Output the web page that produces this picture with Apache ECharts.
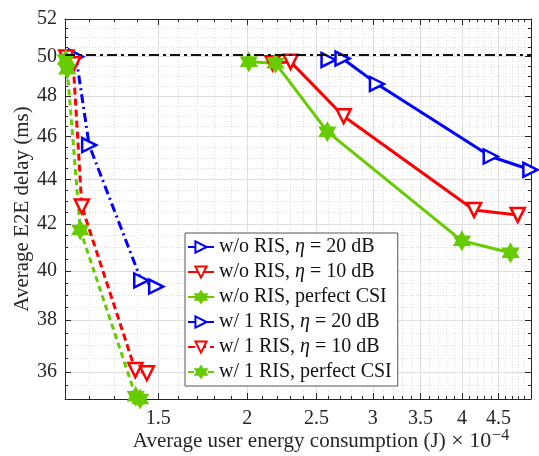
<!DOCTYPE html>
<html>
<head>
<meta charset="utf-8">
<script src="https://cdn.jsdelivr.net/npm/echarts@6/dist/echarts.min.js"></script>
<style>
  html, body { margin: 0; padding: 0; background: #fff; }
  #chart { width: 539px; height: 456px; }
</style>
</head>
<body>
<div id="chart"></div>
<script>
// energy in 1e-4 J, delay in ms
const woRis20X = [2.60, 2.72, 3.04, 4.39, 4.99];
const woRis20Y = [49.83, 49.9, 48.6, 45.06, 44.44];
const woRis10X = [2.17, 2.30, 2.73, 4.16, 4.79];
const woRis10Y = [49.66, 49.73, 46.99, 42.62, 42.4];
const woRisPerfX = [2.01, 2.19, 2.59, 4.00, 4.68];
const woRisPerfY = [49.73, 49.66, 46.24, 41.27, 40.76];

const ris20X = [1.15, 1.20, 1.42, 1.49];
const ris20Y = [50.0, 45.6, 39.6, 39.35];
const ris10X = [1.115, 1.14, 1.172, 1.393, 1.446];
const ris10Y = [49.95, 49.6, 42.77, 36.07, 35.95];
const risPerfX = [1.113, 1.118, 1.166, 1.395, 1.415];
const risPerfY = [49.85, 49.35, 41.74, 35.1, 35.0];

const thresholdDelay = 50;

const xTicks = [1.5, 2, 2.5, 3, 3.5, 4, 4.5];
const yTicks = [36, 38, 40, 42, 44, 46, 48, 50, 52];
const xMin = 1.11, xMax = 5.0;
const yMin = 35, yMax = 52;

const names = [
  'w/o RIS, η = 20 dB',
  'w/o RIS, η = 10 dB',
  'w/o RIS, perfect CSI',
  'w/ 1 RIS, η = 20 dB',
  'w/ 1 RIS, η = 10 dB',
  'w/ 1 RIS, perfect CSI'
];

const lg = Math.log10;
// minor ticks: 0.1 on x, 0.5 on y
var xMinor = [];
for (var i = 12; i <= 50; i++) {
  var v = i / 10;
  if (xTicks.indexOf(v) < 0) xMinor.push(lg(v));
}
var yMinor = [];
for (var j = 70; j <= 104; j++) {
  var w = j / 2;
  if (yTicks.indexOf(w) < 0) yMinor.push(lg(w));
}

const star = 'path://M50 0L64.43 25L93.3 25L78.87 50L93.3 75L64.43 75L50 100L35.57 75L6.7 75L21.13 50L6.7 25L35.57 25Z';
const FONT = 'Liberation Serif';
const AX = '#262626';

function pts(xs, ys) {
  return xs.map((x, k) => [lg(x), lg(ys[k])]);
}
function back(v) {
  return String(Math.round(Math.pow(10, v) * 100) / 100);
}

function axis(kind, opts) {
  var isX = kind === 'x';
  var major = (isX ? xTicks : yTicks).map(lg);
  var ticks = opts.minor ? (isX ? xMinor : yMinor) : major;
  return {
    type: 'value',
    min: lg(isX ? xMin : yMin),
    max: lg(isX ? xMax : yMax),
    position: opts.pos,
    axisLine: { show: !opts.minor, onZero: false, lineStyle: { color: AX, width: 1 } },
    axisTick: { show: true, inside: true, customValues: ticks, length: opts.minor ? 3 : 6, lineStyle: { color: AX, width: 1 } },
    axisLabel: {
      show: !!opts.label, customValues: major, formatter: back,
      fontFamily: FONT, fontSize: 20, color: AX, margin: isX ? 10 : 8
    },
    splitLine: {
      show: !!opts.split,
      lineStyle: opts.minor ? { color: '#dcdcdc', width: 1, type: [1, 2] } : { color: '#dedede', width: 1 }
    }
  };
}

var xAxes = [
  axis('x', { pos: 'bottom', label: true, split: true }),
  axis('x', { pos: 'bottom', minor: true, split: true }),
  axis('x', { pos: 'top' }),
  axis('x', { pos: 'top', minor: true })
];
xAxes[0].name = 'Average user energy consumption (J){t| × 10}{s|−4}';
xAxes[0].nameLocation = 'middle';
xAxes[0].nameGap = 29;
xAxes[0].nameMoveOverlap = false;
xAxes[0].nameTextStyle = {
  fontFamily: FONT, fontSize: 21, color: AX, padding: [0, 0, 0, 46],
  rich: {
    t: { fontFamily: FONT, fontSize: 22, color: AX },
    s: { fontFamily: FONT, fontSize: 16, color: AX, verticalAlign: 'top', padding: [0, 0, 10, 1] }
  }
};

var yAxes = [
  axis('y', { pos: 'left', label: true, split: true }),
  axis('y', { pos: 'left', minor: true, split: true }),
  axis('y', { pos: 'right' }),
  axis('y', { pos: 'right', minor: true })
];
yAxes[0].name = 'Average E2E delay (ms)';
yAxes[0].nameLocation = 'middle';
yAxes[0].nameGap = 32;
yAxes[0].nameMoveOverlap = false;
yAxes[0].nameTextStyle = { fontFamily: FONT, fontSize: 21, color: AX };

function mk(name, xs, ys, color, kind, dash) {
  var tri = kind !== 'star';
  return {
    name: name,
    type: 'line',
    data: pts(xs, ys),
    xAxisIndex: 0,
    yAxisIndex: 0,
    symbol: tri ? 'triangle' : star,
    symbolKeepAspect: true,
    symbolRotate: kind === 'right' ? -90 : (kind === 'down' ? 180 : 0),
    symbolSize: tri ? 14 : 16,
    showAllSymbol: true,
    lineStyle: { color: color, width: 3, type: dash || 'solid' },
    itemStyle: { color: tri ? '#ffffff' : color, borderColor: color, borderWidth: 2.5 },
    emphasis: { disabled: true }
  };
}

var series = [
  mk(names[0], woRis20X, woRis20Y, '#0000ff', 'right'),
  mk(names[1], woRis10X, woRis10Y, '#ff0000', 'down'),
  mk(names[2], woRisPerfX, woRisPerfY, '#66cc00', 'star'),
  mk(names[3], ris20X, ris20Y, '#0000ff', 'right', [9, 4, 2, 4]),
  mk(names[4], ris10X, ris10Y, '#ff0000', 'down', [7, 4]),
  mk(names[5], risPerfX, risPerfY, '#66cc00', 'star', [6, 4])
];
series[0].markLine = {
  silent: true,
  symbol: 'none',
  label: { show: false },
  lineStyle: { color: '#111', width: 2, type: [10, 4, 3, 4] },
  data: [{ yAxis: lg(thresholdDelay) }]
};

var chart = echarts.init(document.getElementById('chart'), null, { renderer: 'canvas' });
chart.setOption({
  animation: false,
  backgroundColor: '#ffffff',
  grid: { left: 65, right: 8, top: 19, bottom: 57, show: false, outerBoundsMode: 'none', containLabel: false },
  xAxis: xAxes,
  yAxis: yAxes,
  legend: {
    data: names,
    orient: 'vertical',
    left: 185,
    top: 233,
    padding: [4, 6, 4, 2],
    itemGap: 5,
    itemWidth: 26,
    itemHeight: 14,
    backgroundColor: '#ffffff',
    borderColor: '#555555',
    borderWidth: 1,
    borderRadius: 0,
    formatter: function (n) { return n.replace('η', '{e|η}'); },
    textStyle: {
      fontFamily: FONT, fontSize: 20, color: '#111', lineHeight: 20,
      rich: { e: { fontFamily: FONT, fontSize: 20, fontStyle: 'italic', color: '#111' } }
    }
  },
  series: series
});
</script>
</body>
</html>
